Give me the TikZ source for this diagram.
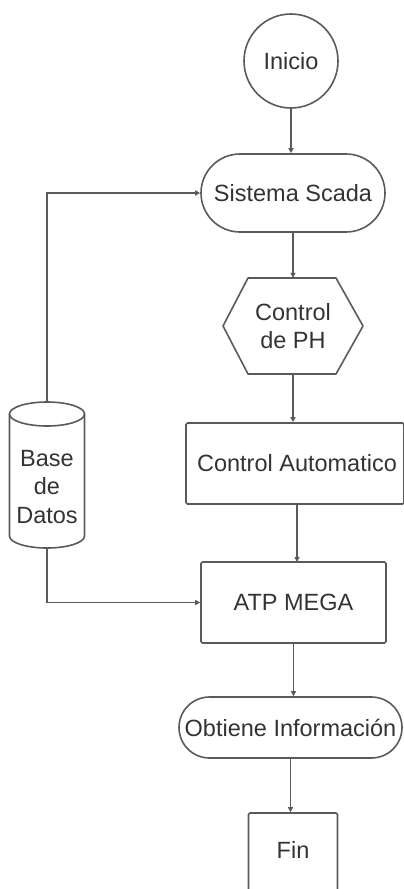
\documentclass[tikz,border=0pt]{standalone}
\usepackage{fontspec}
\setmainfont{Liberation Sans}
\usetikzlibrary{arrows.meta}
\definecolor{edge}{HTML}{5A5A5A}
\definecolor{ink}{HTML}{333333}
\tikzset{
  x=1pt, y=-1pt,
  every node/.style={font=\fontsize{23.5}{28.5}\selectfont, text=ink, align=center, inner sep=0pt},
  shapeline/.style={draw=edge, line width=1.6pt},
  boxnode/.style={shapeline, rectangle, rounded corners=1.5pt},
  pillnode/.style={shapeline, rectangle},
  flow/.style={draw=edge, line width=1.6pt, -{Triangle[length=5pt,width=5pt]}},
}
\begin{document}
\begin{tikzpicture}
\useasboundingbox (0,0) rectangle (404,889);
\clip (0,0) rectangle (404,889);

% Start circle
\node[shapeline, circle, minimum size=94pt] (inicio) at (291,61) {Inicio};

% SCADA terminal
\node[pillnode, rounded corners=39pt, minimum width=184pt, minimum height=78pt] (scada) at (293,193) {Sistema Scada};

% pH control: hexagon outline drawn around an invisible node
\node[minimum width=140pt, minimum height=96pt] (ph) at (293,326) {Control\\de PH};
\draw[shapeline, line join=round] (223,326) -- (248,278) -- (336,278) -- (363,326) -- (336,374) -- (248,374) -- cycle;

% Automatic control block (runs past the right edge)
\node[boxnode, minimum width=218pt, minimum height=81pt] (auto) at (295,463.5) {};
\node at (297,463.5) {Control Automatico};

% Database cylinder
\node[minimum width=75pt, minimum height=146pt] (bd) at (47,475) {};
\node at (47,487) {Base\\de\\Datos};
\draw[shapeline] (9.5,414) -- (9.5,536) arc[start angle=180, end angle=0, x radius=37.5, y radius=12] -- (84.5,414);
\draw[shapeline] (47,414) ellipse[x radius=37.5, y radius=12];

% ATP MEGA block
\node[boxnode, minimum width=185pt, minimum height=81pt] (atp) at (293.5,602.5) {ATP MEGA};

% Information terminal
\node[pillnode, rounded corners=30.5pt, minimum width=223pt, minimum height=61pt] (info) at (290.5,727.5) {Obtiene Información};

% End block (runs past the bottom edge)
\node[boxnode, minimum width=89pt, minimum height=90pt] (fin) at (293,858) {};
\node at (293,850) {Fin};

% Main flow
\draw[flow] (inicio.south) -- (inicio.south |- scada.north);
\draw[flow] (scada.south) -- (scada.south |- ph.north);
\draw[flow] (ph.south) -- (ph.south |- auto.north);
\draw[flow] (297,504) -- (297,562);
\draw[flow] (atp.south) -- (atp.south |- info.north);
\draw[flow] (info.south) -- (info.south |- fin.north);

% Database links
\draw[flow] (bd.north) |- (scada.west);
\draw[flow] (bd.south) |- (atp.west);
\end{tikzpicture}
\end{document}
